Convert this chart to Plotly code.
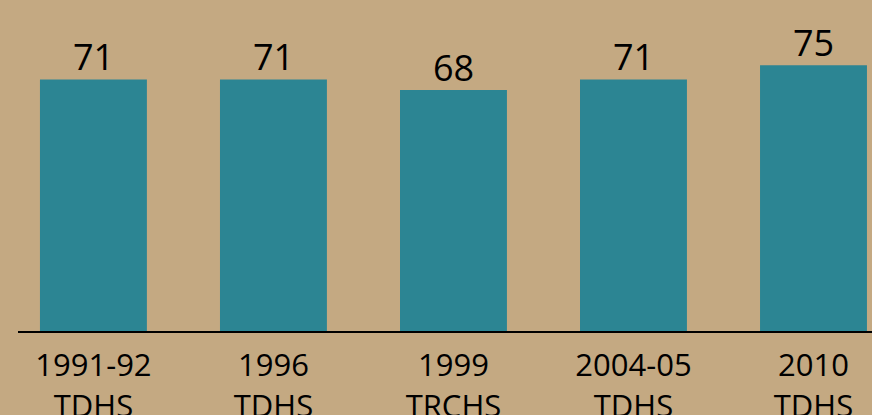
import plotly.graph_objects as go

categories = ["1991-92<br>TDHS", "1996<br>TDHS", "1999<br>TRCHS", "2004-05<br>TDHS", "2010<br>TDHS"]
values = [71, 71, 68, 71, 75]

BG = "#C4A982"
BAR = "#2C8593"

fig = go.Figure(
    go.Bar(
        x=categories,
        y=values,
        cliponaxis=False,
        marker=dict(color=BAR, line=dict(width=0)),
        hoverinfo="x+y",
    )
)

for c, v in zip(categories, values):
    fig.add_annotation(
        x=c,
        y=v,
        text=str(v),
        showarrow=False,
        xanchor="center",
        yanchor="bottom",
        yshift=-4,
        font=dict(family="Open Sans", size=36, color="black"),
    )

fig.update_layout(
    width=872,
    height=415,
    margin=dict(l=18, r=0, t=0, b=84, autoexpand=False),
    paper_bgcolor=BG,
    plot_bgcolor=BG,
    bargap=0.406,
    showlegend=False,
    xaxis=dict(
        type="category",
        range=[-0.419, 4.325],
        automargin=False,
        showline=True,
        linecolor="black",
        linewidth=2,
        showgrid=False,
        zeroline=False,
        ticks="",
        ticklabelstandoff=6,
        tickfont=dict(family="Open Sans", size=31, color="black"),
    ),
    yaxis=dict(
        range=[0, 93.4],
        automargin=False,
        visible=False,
        showgrid=False,
        zeroline=False,
    ),
)

fig.write_html(
    "out.html",
    config={"displayModeBar": False},
    post_script="document.body.style.margin='0px';document.body.style.overflow='hidden';",
)
